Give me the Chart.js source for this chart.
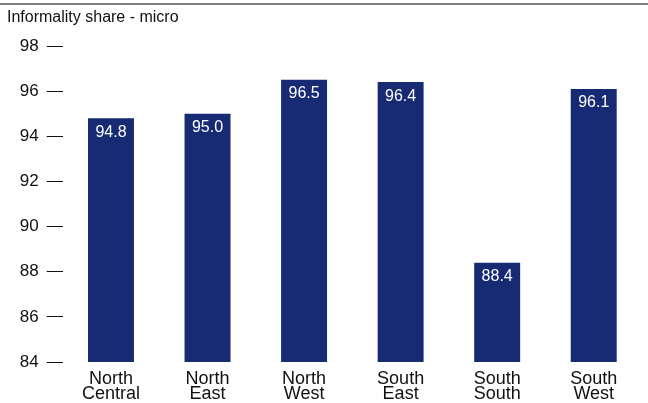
<!DOCTYPE html>
<html>
<head>
<meta charset="utf-8">
<script src="https://cdn.jsdelivr.net/npm/chart.js@4"></script>
<style>
html,body{margin:0;padding:0;background:#fff;}
#wrap{width:648px;height:403px;position:relative;}
</style>
</head>
<body>
<div id="wrap"><canvas id="c" width="648" height="403"></canvas></div>
<script>
const categories = [["North","Central"],["North","East"],["North","West"],["South","East"],["South","South"],["South","West"]];
const values = [94.8, 95.0, 96.5, 96.4, 88.4, 96.1];
const yTicks = [84, 86, 88, 90, 92, 94, 96, 98];
const chartTitle = "Informality share - micro";

const FONT = "'Liberation Sans', Arial, sans-serif";

const deco = {
  id: 'deco',
  afterDraw(chart) {
    const ctx = chart.ctx;
    ctx.save();
    ctx.strokeStyle = '#555';
    ctx.lineWidth = 1.5;
    ctx.beginPath();
    ctx.moveTo(0, 4);
    ctx.lineTo(648, 4);
    ctx.stroke();
    ctx.fillStyle = '#111';
    ctx.font = '16px ' + FONT;
    ctx.textAlign = 'left';
    ctx.textBaseline = 'middle';
    ctx.fillText(chartTitle, 7, 18);
    const meta = chart.getDatasetMeta(0);
    ctx.fillStyle = '#fff';
    ctx.font = '16px ' + FONT;
    ctx.textAlign = 'center';
    meta.data.forEach((bar, i) => {
      ctx.fillText(values[i].toFixed(1), bar.x, bar.y + 14);
    });
    ctx.restore();
  }
};

new Chart(document.getElementById('c'), {
  type: 'bar',
  data: {
    labels: categories,
    datasets: [{
      data: values,
      backgroundColor: '#162b74',
      borderWidth: 0,
      categoryPercentage: 1,
      barPercentage: 0.476
    }]
  },
  options: {
    responsive: false,
    animation: false,
    events: [],
    layout: { padding: { top: 46, right: 6, left: 0, bottom: 0 } },
    plugins: { legend: { display: false }, tooltip: { enabled: false }, title: { display: false } },
    scales: {
      x: {
        grid: { display: false, drawTicks: false },
        border: { display: false },
        ticks: {
          color: '#111',
          font: { family: FONT, size: 18, lineHeight: 0.83 },
          padding: 10,
          maxRotation: 0,
          autoSkip: false
        },
        afterFit(s) { s.height = 41; }
      },
      y: {
        min: 84,
        max: 98,
        afterBuildTicks(s) { s.ticks = yTicks.map(v => ({ value: v })); },
        grid: { drawOnChartArea: false, drawTicks: true, tickLength: 16, color: '#111', lineWidth: 1 },
        border: { display: false },
        ticks: {
          color: '#111',
          font: { family: FONT, size: 17 },
          padding: 8
        },
        afterFit(s) { s.width = 62.7; }
      }
    }
  },
  plugins: [deco]
});
</script>
</body>
</html>
